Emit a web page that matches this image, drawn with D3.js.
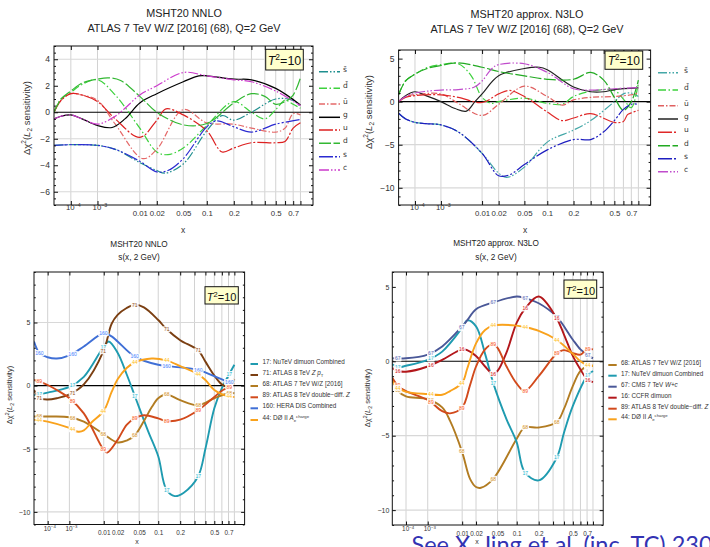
<!DOCTYPE html>
<html>
<head>
<meta charset="utf-8">
<script src="https://cdn.jsdelivr.net/npm/d3@7"></script>
<style>
  body { margin: 0; background: #fff; }
  svg { display: block; font-family: "Liberation Sans", Arial, sans-serif; }
</style>
</head>
<body>
<svg id="chart" width="710" height="547"></svg>
<script>
// ---- data ----
const gridX = [1e-4, 1e-3, 0.01, 0.02, 0.05, 0.1, 0.2, 0.3, 0.4, 0.5, 0.6, 0.7, 0.8];
const labelX = [1e-4, 1e-3, 0.01, 0.02, 0.05, 0.1, 0.2, 0.5, 0.7];
const curveLabelX = [2.8e-5, 1.3e-3, 9.8e-3, 0.042, 0.132, 0.332, 0.713];

// top left: MSHT20 NNLO, ATLAS 7 TeV W/Z, [x, delta chi2]
const tlSbar = [[1e-5,-2.5],[1e-4,-2.45],[1e-3,-2.5],[3e-3,-2.8],[0.01,-3.8],[0.02,-4.4],[0.027,-4.6],[0.05,-3.9],[0.1,-1.4],[0.15,-0.25],[0.2,-0.6],[0.3,0.0],[0.5,1.0],[0.7,0.9],[0.8,0.4]];
const tlDbar = [[1e-5,0],[3e-5,1.0],[1e-4,1.5],[3e-4,2.1],[1e-3,2.45],[3e-3,1.3],[0.01,-1.2],[0.02,-3.0],[0.03,-3.2],[0.05,-2.7],[0.1,-1.0],[0.2,0.8],[0.3,0.0],[0.4,-0.5],[0.5,0.2],[0.6,0.9],[0.7,0.6],[0.8,0.3]];
const tlUbar = [[1e-5,0],[3e-5,0.9],[1e-4,1.4],[3e-4,1.3],[1e-3,0.9],[3e-3,-0.9],[0.0114,-3.5],[0.02,-2.8],[0.05,0.2],[0.1,-0.8],[0.2,-0.9],[0.3,-1.2],[0.5,-1.5],[0.6,-1.2],[0.7,-0.1],[0.8,-0.2]];
const tlG = [[1e-5,-0.5],[3e-5,-0.3],[1e-4,-0.2],[3e-4,-0.5],[1e-3,-1.0],[2.5e-3,-1.15],[5e-3,-0.5],[0.01,0.7],[0.02,1.4],[0.05,2.3],[0.08,2.75],[0.1,2.75],[0.2,2.5],[0.3,2.45],[0.5,1.8],[0.8,0.55]];
const tlU = [[1e-5,0],[3e-5,0.9],[1e-4,1.4],[3e-4,1.3],[1e-3,0.8],[3e-3,-0.5],[0.01,-1.9],[0.02,-0.6],[0.028,0.25],[0.05,-0.2],[0.1,-1.4],[0.15,-3.0],[0.2,-2.7],[0.3,-2.3],[0.5,-2.3],[0.6,-2.2],[0.7,-1.2],[0.8,-0.8]];
const tlD = [[1e-5,0],[3e-5,1.0],[1e-4,1.6],[3e-4,2.2],[1e-3,2.5],[2e-3,2.6],[4e-3,2.4],[0.01,1.2],[0.02,0.0],[0.05,-0.95],[0.1,-0.85],[0.2,0.7],[0.3,1.4],[0.4,1.2],[0.5,0.6],[0.6,0.8],[0.7,1.3],[0.8,2.6]];
const tlS = [[1e-5,-2.5],[1e-4,-2.45],[1e-3,-2.5],[3e-3,-2.8],[0.01,-3.7],[0.02,-4.5],[0.03,-4.4],[0.05,-3.5],[0.1,-1.1],[0.13,-0.65],[0.2,-1.1],[0.3,-1.5],[0.5,-0.9],[0.8,-0.55]];
const tlC = [[1e-5,-0.5],[3e-5,-0.3],[1e-4,-0.2],[3e-4,-0.5],[1e-3,-0.9],[3e-3,-0.3],[0.005,0.3],[0.01,1.3],[0.02,2.0],[0.05,3.0],[0.1,2.75],[0.2,2.45],[0.3,2.3],[0.5,1.6],[0.8,0.5]];

// top right: MSHT20 approx. N3LO
const trSbar = [[1e-5,-1.35],[3e-5,-2.0],[1e-4,-2.4],[3e-4,-2.55],[1e-3,-2.7],[3e-3,-3.5],[0.01,-6.0],[0.02,-8.3],[0.027,-8.8],[0.05,-7.6],[0.1,-4.7],[0.2,-3.3],[0.3,-2.2],[0.5,0.0],[0.6,0.9],[0.7,1.0],[0.8,0.6]];
const trDbar = [[1e-5,0.8],[3e-5,2.4],[1e-4,3.2],[3e-4,3.9],[1e-3,4.3],[3e-3,4.4],[0.006,3.0],[0.01,0.5],[0.015,-0.2],[0.02,0.0],[0.05,0.4],[0.1,-0.2],[0.15,-0.3],[0.2,0.6],[0.3,1.2],[0.5,1.3],[0.6,0.3],[0.7,-0.7],[0.8,2.2]];
const trUbar = [[1e-5,0],[3e-5,0.6],[1e-4,0.8],[1e-3,0.9],[3e-3,-0.2],[0.01,-1.6],[0.02,-0.3],[0.05,1.8],[0.1,0.6],[0.15,-0.4],[0.2,0.2],[0.3,0.5],[0.5,0.6],[0.7,0.8],[0.8,1.0]];
const trG = [[1e-5,0],[3e-5,0.7],[1e-4,1.15],[3e-4,0.7],[1e-3,0.0],[2.5e-3,-0.8],[4.7e-3,-1.1],[0.0072,0],[0.01,0.9],[0.02,3.0],[0.05,3.85],[0.08,4.0],[0.1,3.7],[0.2,1.7],[0.3,1.15],[0.4,1.15],[0.5,1.4],[0.8,1.6]];
const trU = [[1e-5,0],[3e-5,0.5],[1e-4,0.7],[1e-3,0.8],[3e-3,0.5],[0.01,-0.1],[0.02,0.9],[0.03,1.3],[0.05,0.6],[0.1,-1.2],[0.15,-2.2],[0.2,-1.9],[0.3,-1.4],[0.5,-2.4],[0.6,-2.3],[0.65,-1.5],[0.7,-1.3],[0.8,-1.0]];
const trD = [[1e-5,0.8],[3e-5,2.4],[1e-4,3.2],[3e-4,3.8],[1e-3,4.2],[3e-3,4.5],[0.01,4.0],[0.02,3.5],[0.05,3.0],[0.1,2.6],[0.2,2.6],[0.3,3.4],[0.4,2.5],[0.5,0.5],[0.6,-1.0],[0.7,0.0],[0.8,2.5]];
const trS = [[1e-5,-1.35],[3e-5,-2.0],[1e-4,-2.4],[3e-4,-2.55],[1e-3,-2.7],[3e-3,-3.5],[0.01,-6.0],[0.02,-8.6],[0.03,-8.5],[0.05,-7.3],[0.1,-5.6],[0.2,-4.4],[0.3,-4.4],[0.4,-3.5],[0.5,-2.2],[0.6,-0.9],[0.7,-0.3],[0.8,-0.3]];
const trC = [[1e-5,0],[3e-5,0.6],[1e-4,1.0],[3e-4,1.2],[1e-3,1.35],[3e-3,1.4],[0.007,1.7],[0.01,2.4],[0.015,3.8],[0.02,4.3],[0.05,4.4],[0.1,3.4],[0.2,1.5],[0.3,1.35],[0.5,1.5],[0.8,1.65]];

// bottom left: s(x, 2 GeV), NNLO, per data set
const bl17 = [[1e-5,-0.75],[1e-4,-0.55],[1e-3,-0.1],[3e-3,0.7],[0.01,3.1],[0.013,3.5],[0.02,2.6],[0.03,0.9],[0.042,-0.8],[0.07,-3.6],[0.1,-5.6],[0.13,-8.2],[0.17,-8.75],[0.22,-8.5],[0.33,-7.2],[0.4,-5.0],[0.5,-1.8],[0.6,-0.2],[0.7,0.8],[0.8,1.65]];
const bl71 = [[1e-5,-0.35],[3e-5,-1.0],[1e-4,-1.1],[3e-4,-1.0],[1e-3,-0.7],[3e-3,0.1],[0.01,2.8],[0.015,4.9],[0.02,5.6],[0.03,6.15],[0.042,6.4],[0.06,6.2],[0.1,5.2],[0.13,4.5],[0.2,3.6],[0.33,2.8],[0.4,1.9],[0.5,0.8],[0.6,0.1],[0.7,-0.1],[0.8,0.5]];
const bl68 = [[1e-5,-2.45],[1e-4,-2.45],[1e-3,-2.5],[3e-3,-2.85],[0.01,-3.85],[0.02,-4.5],[0.03,-4.35],[0.042,-3.95],[0.06,-2.8],[0.08,-1.7],[0.1,-1.0],[0.13,-0.7],[0.2,-1.15],[0.33,-1.55],[0.5,-1.0],[0.7,-0.6],[0.8,-0.6]];
const bl89 = [[1e-5,0.45],[3e-5,0.3],[1e-4,0.05],[3e-4,-0.35],[1e-3,-1.0],[3e-3,-2.2],[0.01,-5.1],[0.012,-5.3],[0.02,-4.3],[0.03,-3.1],[0.042,-2.6],[0.06,-2.35],[0.1,-2.6],[0.13,-2.8],[0.2,-2.7],[0.33,-1.95],[0.5,-0.9],[0.6,-0.4],[0.7,-0.15],[0.8,0.2]];
const bl160 = [[1e-5,3.5],[3e-5,2.55],[1e-4,2.25],[3e-4,2.15],[1e-3,2.4],[3e-3,3.1],[0.01,4.15],[0.015,3.9],[0.02,3.5],[0.042,2.3],[0.1,1.65],[0.2,1.45],[0.33,1.25],[0.5,0.75],[0.7,0.3],[0.8,0.35]];
const bl44 = [[1e-5,-2.7],[1e-4,-2.85],[1e-3,-3.35],[2e-3,-3.65],[3e-3,-3.55],[0.005,-2.9],[0.01,-2.0],[0.015,-0.5],[0.02,0.5],[0.03,1.4],[0.042,1.85],[0.08,2.15],[0.13,2.0],[0.2,1.55],[0.33,0.9],[0.4,0.45],[0.5,-0.35],[0.7,-0.85],[0.8,-0.9]];

// bottom right: s(x, 2 GeV), approx. N3LO
const br68 = [[1e-5,-1.2],[3e-5,-2.0],[1e-4,-2.35],[1e-3,-2.55],[3e-3,-3.1],[0.005,-4.0],[0.01,-6.1],[0.015,-7.9],[0.02,-8.45],[0.025,-8.5],[0.042,-7.9],[0.1,-5.2],[0.13,-4.45],[0.2,-4.45],[0.33,-4.1],[0.4,-3.2],[0.5,-1.65],[0.6,-0.65],[0.7,-0.35],[0.8,-0.3]];
const br17 = [[1e-5,-0.2],[3e-5,-0.4],[1e-4,-0.3],[1e-3,0.1],[3e-3,0.65],[0.01,2.25],[0.013,2.75],[0.02,2.35],[0.03,0.5],[0.042,-1.45],[0.07,-3.9],[0.1,-5.45],[0.13,-7.45],[0.2,-8.0],[0.33,-6.5],[0.4,-4.8],[0.5,-3.0],[0.7,-1.0],[0.8,-0.65]];
const br67 = [[1e-5,0.2],[1e-4,0.2],[1e-3,0.45],[3e-3,1.0],[0.01,2.35],[0.013,2.75],[0.02,3.5],[0.042,3.95],[0.1,4.35],[0.13,4.25],[0.2,3.9],[0.33,3.0],[0.5,1.45],[0.6,0.8],[0.7,0.45],[0.8,0.2]];
const br16 = [[1e-5,-0.45],[3e-5,-0.65],[1e-4,-0.7],[1e-3,-0.35],[3e-3,0.1],[0.01,0.8],[0.013,0.75],[0.02,0.35],[0.03,-0.35],[0.042,-0.85],[0.05,-0.65],[0.07,0.6],[0.1,2.6],[0.13,3.5],[0.2,4.35],[0.33,2.9],[0.4,1.8],[0.5,0.35],[0.6,-0.55],[0.7,-1.2],[0.8,-1.4]];
const br89 = [[1e-5,-1.1],[3e-5,-1.65],[1e-4,-2.0],[1e-3,-2.6],[3e-3,-3.35],[0.005,-3.5],[0.01,-3.1],[0.015,-1.6],[0.02,-0.35],[0.03,0.8],[0.042,1.15],[0.05,0.9],[0.07,-0.35],[0.1,-1.5],[0.13,-2.0],[0.2,-1.0],[0.33,0.5],[0.4,0.75],[0.5,0.55],[0.6,0.45],[0.7,0.8],[0.8,0.8]];
const br44 = [[1e-5,-1.35],[3e-5,-1.8],[1e-4,-2.05],[1e-3,-2.2],[3e-3,-2.25],[0.005,-2.0],[0.01,-1.45],[0.013,-0.5],[0.02,1.2],[0.03,2.1],[0.042,2.4],[0.1,2.4],[0.13,2.3],[0.2,2.05],[0.33,1.45],[0.5,0.5],[0.6,0.0],[0.7,-0.25],[0.8,-0.3]];

// ---- series styling ----
const pdfNames = ['s\u0304', 'd\u0304', 'u\u0304', 'g', 'u', 'd', 's', 'c'];
const pdfDash = ['9,2,1.5,2,1.5,2', '8,2.5,1.5,2.5', '6,2,1.5,2', null, '14,2,2,2', '12,2.5', '14,2,2,2,2,2', '10,2,1.5,2,1.5,2'];
const tlColors = ['#1f8f8f', '#3dd13d', '#e56a6a', '#000000', '#dd2020', '#33b833', '#2b2bd1', '#cc3acc'];
const trColors = ['#45a8a8', '#3dd13d', '#e06060', '#222222', '#e02828', '#22aa22', '#1e1ec0', '#c04ccc'];

const tlSeries = [tlSbar, tlDbar, tlUbar, tlG, tlU, tlD, tlS, tlC].map((v, i) =>
  ({ values: v, color: tlColors[i], dash: pdfDash[i], label: [{ t: pdfNames[i] }] }));
const trSeries = [trSbar, trDbar, trUbar, trG, trU, trD, trS, trC].map((v, i) =>
  ({ values: v, color: trColors[i], dash: pdfDash[i], label: [{ t: pdfNames[i] }] }));

const setColor = { 17: '#1f9bb0', 71: '#7b3f12', 68: '#b27c22', 89: '#d24a1c', 160: '#3f6fd6', 44: '#f9a21c', 67: '#4a5898', 16: '#b3171b' };
const setLabel = {
  17: [{ t: '17: NuTeV dimuon Combined' }],
  71: [{ t: '71: ATLAS 8 TeV ' }, { t: 'Z p', i: true }, { t: 'T', sub: true }],
  68: [{ t: '68: ATLAS 7 TeV W/Z [2016]' }],
  89: [{ t: '89: ATLAS 8 TeV double\u2212diff. ' }, { t: 'Z', i: true }],
  160: [{ t: '160: HERA DIS Combined' }],
  44: [{ t: '44: D\u00d8 II ' }, { t: 'A', i: true }, { t: 'e', sub: true }, { t: 'charge', sup: true }],
  67: [{ t: '67: CMS 7 TeV ' }, { t: 'W+c', i: true }],
  16: [{ t: '16: CCFR dimuon' }]
};
const blSeries = [[17, bl17], [71, bl71], [68, bl68], [89, bl89], [160, bl160], [44, bl44]]
  .map(([k, v]) => ({ key: k, values: v, color: setColor[k], label: setLabel[k] }));
const brSeries = [[68, br68], [17, br17], [67, br67], [16, br16], [89, br89], [44, br44]]
  .map(([k, v]) => ({ key: k, values: v, color: setColor[k], label: setLabel[k] }));

const svg = d3.select('#chart');
const FONT = '"Liberation Sans", Arial, sans-serif';

// text with italic / sub / sup pieces
function rich(text, segs, fs) {
  let shift = 0;
  segs.forEach(s => {
    const target = s.sup ? -0.38 * fs : s.sub ? 0.25 * fs : 0;
    const ts = text.append('tspan').text(s.t).attr('dy', target - shift);
    shift = target;
    if (s.sup || s.sub) ts.attr('font-size', fs * 0.68);
    if (s.i) ts.attr('font-style', 'italic');
  });
}

function pointAtX(node, px) {
  let lo = 0, hi = node.getTotalLength();
  for (let k = 0; k < 30; k++) {
    const mid = (lo + hi) / 2;
    if (node.getPointAtLength(mid).x < px) lo = mid; else hi = mid;
  }
  return node.getPointAtLength(lo);
}

function drawPanel(p) {
  const x = d3.scalePow().exponent(0.2).domain([1e-5, 1]).range(p.xr);
  const y = d3.scaleLinear().domain(p.yd).range(p.yr);
  const x0 = p.xr[0], x1 = p.xr[1], top = p.yr[1], bot = p.yr[0];
  const g = svg.append('g');

  svg.append('clipPath').attr('id', 'clip' + p.id)
    .append('rect').attr('x', x0).attr('y', top).attr('width', x1 - x0).attr('height', bot - top);

  // grid lines
  g.append('g').selectAll('line').data(gridX).join('line')
    .attr('x1', d => x(d)).attr('x2', d => x(d)).attr('y1', top).attr('y2', bot)
    .attr('stroke', '#d2d2d2').attr('stroke-width', 1);
  g.append('g').selectAll('line').data(p.hgrid).join('line')
    .attr('x1', x0).attr('x2', x1).attr('y1', d => y(d)).attr('y2', d => y(d))
    .attr('stroke', '#d8d8d8').attr('stroke-width', 1.2);
  g.append('line').attr('x1', x0).attr('x2', x1).attr('y1', y(0)).attr('y2', y(0))
    .attr('stroke', '#000').attr('stroke-width', 1.1);

  const line = d3.line().x(d => x(d[0])).y(d => y(d[1])).curve(d3.curveCatmullRom.alpha(0.5));
  const curves = g.append('g').attr('clip-path', `url(#clip${p.id})`);
  p.series.forEach(s => {
    s.node = curves.append('path').datum(s.values).attr('d', line)
      .attr('fill', 'none').attr('stroke', s.color).attr('stroke-width', p.lw)
      .attr('stroke-dasharray', s.dash || null).attr('stroke-linejoin', 'round').node();
  });

  // number tags sitting on the curves
  if (p.tags) {
    const tags = g.append('g').attr('font-size', 5).attr('text-anchor', 'middle');
    p.series.forEach(s => {
      curveLabelX.forEach(lx => {
        const pt = pointAtX(s.node, x(lx));
        const w = String(s.key).length * 2.9 + 2;
        tags.append('rect').attr('x', pt.x - w / 2).attr('y', pt.y - 3).attr('width', w).attr('height', 6)
          .attr('rx', 1).attr('fill', '#fff').attr('fill-opacity', 0.9);
        tags.append('text').attr('x', pt.x).attr('y', pt.y + 1.8).text(s.key)
          .attr('fill', d3.color(s.color).brighter(0.5));
      });
    });
  }

  // frame + ticks
  g.append('rect').attr('x', x0).attr('y', top).attr('width', x1 - x0).attr('height', bot - top)
    .attr('fill', 'none').attr('stroke', '#111').attr('stroke-width', 1);

  const fmtX = d => d === 1e-4 ? '10|\u22124' : d === 1e-3 ? '10|\u22123' : labelX.includes(d) ? String(d) : '';
  const minors = d3.range(p.yd[0], p.yd[1] + 1e-9, p.minStep).filter(v => !p.yMajor.includes(v));
  const style = a => {
    a.select('.domain').remove();
    a.attr('font-size', p.fs).attr('font-family', FONT).attr('color', '#111');
    a.selectAll('text').attr('fill', '#333');
  };

  const axB = g.append('g').attr('transform', `translate(0,${bot})`)
    .call(d3.axisBottom(x).tickValues(gridX).tickSize(-p.tk).tickPadding(p.xpad).tickFormat(fmtX)).call(style);
  axB.selectAll('text').attr('font-size', p.xfs).each(function () {
    const t = d3.select(this), s = t.text();
    if (s.includes('|')) {
      const [b, e] = s.split('|');
      t.text(null).attr('dx', '0.25em');
      rich(t, [{ t: b }, { t: e, sup: true }], p.xfs);
    }
  });
  g.append('g').attr('transform', `translate(0,${top})`)
    .call(d3.axisTop(x).tickValues(gridX).tickSize(-p.tk).tickFormat('')).call(style);
  g.append('g').attr('transform', `translate(${x0},0)`)
    .call(d3.axisLeft(y).tickValues(p.yMajor).tickSize(-p.tk).tickPadding(p.ypad)).call(style);
  g.append('g').attr('transform', `translate(${x0},0)`)
    .call(d3.axisLeft(y).tickValues(minors).tickSize(-p.tk / 2).tickFormat('')).call(style);
  g.append('g').attr('transform', `translate(${x1},0)`)
    .call(d3.axisRight(y).tickValues(p.yMajor).tickSize(-p.tk).tickFormat('')).call(style);
  g.append('g').attr('transform', `translate(${x1},0)`)
    .call(d3.axisRight(y).tickValues(minors).tickSize(-p.tk / 2).tickFormat('')).call(style);

  // titles
  p.title.forEach((t, i) => {
    g.append('text').attr('x', p.titleX).attr('y', p.titleY[i]).attr('text-anchor', 'middle')
      .attr('font-size', p.titleFs).attr('fill', '#222').text(t);
  });
  g.append('text').attr('x', p.xlab[0]).attr('y', p.xlab[1]).attr('text-anchor', 'middle')
    .attr('font-size', p.fs).attr('fill', '#333').text('x');
  const yl = g.append('text').attr('transform', `translate(${p.ylab[0]},${p.ylab[1]}) rotate(-90)`)
    .attr('text-anchor', 'middle').attr('dy', '0.35em').attr('font-size', p.ylabFs).attr('fill', '#333');
  rich(yl, [{ t: '\u0394\u03c7' }, { t: '2', sup: true }, { t: '(' }, { t: 'L', i: true }, { t: '2', sub: true }, { t: ' sensitivity)' }], p.ylabFs);

  // T^2 box
  const b = p.tbox;
  g.append('rect').attr('x', b[0]).attr('y', b[1]).attr('width', b[2]).attr('height', b[3])
    .attr('fill', '#ffffcc').attr('stroke', '#111').attr('stroke-width', 1);
  const tt = g.append('text').attr('x', b[0] + b[2] / 2).attr('y', b[4]).attr('text-anchor', 'middle')
    .attr('font-size', b[5]).attr('fill', '#111');
  rich(tt, [{ t: 'T', i: true }, { t: '2', sup: true }, { t: '=10' }], b[5]);

  // legend
  const lg = p.legend;
  p.series.forEach((s, i) => {
    const yy = lg.ys[i];
    g.append('line').attr('x1', lg.x0).attr('x2', lg.x1).attr('y1', yy).attr('y2', yy)
      .attr('stroke', s.color).attr('stroke-width', lg.lw).attr('stroke-dasharray', s.dash || null);
    const t = g.append('text').attr('x', lg.tx).attr('y', yy).attr('dy', '0.35em')
      .attr('font-size', lg.fs).attr('fill', '#333').attr('font-family', lg.font || null);
    rich(t, s.label, lg.fs);
  });
}

const atlasTitle = 'ATLAS 7 TeV W/Z [2016] (68), Q=2 GeV';
const panels = [
  { id: 'tl', xr: [54, 313], yd: [-7, 5], yr: [205, 46], yMajor: [-6, -4, -2, 0, 2, 4], minStep: 0.5, hgrid: [4, -2, -6],
    series: tlSeries, lw: 1.2, fs: 8.5, xfs: 7.8, tk: 4, xpad: 5, ypad: 4,
    title: ['MSHT20 NNLO', atlasTitle], titleX: 184, titleY: [17.3, 31.7], titleFs: 10.8,
    xlab: [183, 233], ylab: [30, 118], ylabFs: 9.5,
    tbox: [265.7, 49.3, 37.6, 20.7, 65, 12.5],
    legend: { x0: 319, x1: 340, tx: 343, fs: 7.5, lw: 1.5, font: '"DejaVu Sans", sans-serif', ys: [71.7, 88.3, 104, 117.3, 130, 143.3, 156.7, 170] } },
  { id: 'tr', xr: [398.6, 650.6], yd: [-12, 6], yr: [205, 50], yMajor: [-10, -5, 0, 5], minStep: 1, hgrid: [-5, -10],
    series: trSeries, lw: 1.2, fs: 8.5, xfs: 7.8, tk: 4, xpad: 5, ypad: 4,
    title: ['MSHT20 approx. N3LO', atlasTitle], titleX: 527, titleY: [18.3, 33.3], titleFs: 10.8,
    xlab: [525, 233], ylab: [372, 112], ylabFs: 9.5,
    tbox: [605, 51, 37.7, 18.3, 65, 12],
    legend: { x0: 658, x1: 678, tx: 684, fs: 7.5, lw: 1.5, font: '"DejaVu Sans", sans-serif', ys: [72.7, 90, 105.7, 119, 132.3, 145.7, 158.7, 171.7] } },
  { id: 'bl', xr: [34, 244.6], yd: [-11, 9], yr: [524.5, 272], yMajor: [-10, -5, 0, 5], minStep: 1, hgrid: [5, -5, -10],
    series: blSeries, lw: 1.9, fs: 7, xfs: 6.4, tk: 3.5, xpad: 6, ypad: 3.5, tags: true,
    title: ['MSHT20 NNLO', 's(x, 2 GeV)'], titleX: 139, titleY: [247.3, 260.3], titleFs: 8.2,
    xlab: [137, 544], ylab: [12, 395], ylabFs: 7.5,
    tbox: [205, 286.7, 33.3, 17.3, 301, 11],
    legend: { x0: 250.5, x1: 258, tx: 262.5, fs: 6.3, lw: 2, ys: [364, 375, 386, 397.3, 408.3, 420] } },
  { id: 'br', xr: [392.3, 603.2], yd: [-11, 6], yr: [525, 272], yMajor: [-10, -5, 0, 5], minStep: 1, hgrid: [-5, -10],
    series: brSeries, lw: 1.9, fs: 7, xfs: 6.4, tk: 3.5, xpad: 6, ypad: 3, tags: true,
    title: ['MSHT20 approx. N3LO', 's(x, 2 GeV)'], titleX: 496, titleY: [246, 260.3], titleFs: 8.2,
    xlab: [477, 544], ylab: [370, 398], ylabFs: 7.5,
    tbox: [564, 280, 32.7, 18.3, 295, 11],
    legend: { x0: 608.3, x1: 616.7, tx: 621, fs: 6.3, lw: 2, ys: [365, 375.7, 386.7, 397.7, 408.7, 419.3] } }
];

panels.forEach(drawPanel);

// slide footnote, clipped by the page edge
svg.append('text').attr('x', 411.5).attr('y', 553).attr('font-family', 'Lato, "Open Sans", sans-serif')
  .attr('font-size', 23.5).attr('fill', '#3333b3').text('See X. Jing et al. (inc. TC) 2306');
</script>
</body>
</html>
